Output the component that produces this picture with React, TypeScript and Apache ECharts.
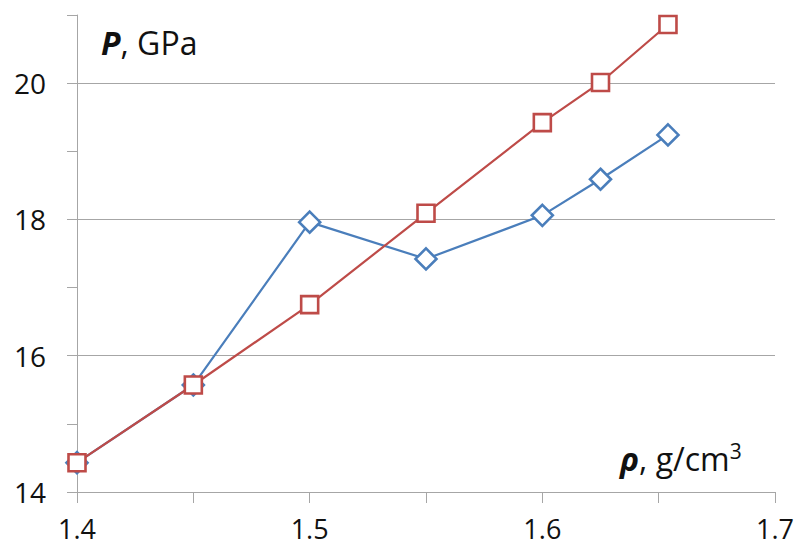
import React, { useEffect, useRef } from "react";
import * as echarts from "echarts";

// Density (g/cm3) and pressure (GPa) for the two data sets
const densityBlue = [1.4, 1.45, 1.5, 1.55, 1.6, 1.625, 1.654];
const pressureBlue = [14.43, 15.57, 17.96, 17.42, 18.06, 18.59, 19.24];

const densityRed = [1.4, 1.45, 1.5, 1.55, 1.6, 1.625, 1.654];
const pressureRed = [14.43, 15.57, 16.75, 18.09, 19.42, 20.01, 20.86];

// Horizontal reference lines drawn across the plot
const gridValues = [16, 18, 20];

const FONT = "'Open Sans', 'Noto Sans', sans-serif";
const BLUE = "#4a7ebb";
const RED = "#be4b48";
const GREY = "#a6a6a6";

export default function App() {
  const ref = useRef<HTMLDivElement>(null);

  useEffect(() => {
    if (!ref.current) return;
    const chart = echarts.init(ref.current, undefined, { renderer: "svg" });

    const pairs = (xs: number[], ys: number[]) => xs.map((x, i) => [x, ys[i]]);

    chart.setOption({
      animation: false,
      backgroundColor: "#ffffff",
      grid: { left: 77, right: 23, top: 15, bottom: 55, containLabel: false },
      xAxis: {
        type: "value",
        min: 1.4,
        max: 1.7,
        interval: 0.05,
        axisLine: { show: true, lineStyle: { color: GREY, width: 1 } },
        axisTick: { show: true, length: 11, lineStyle: { color: GREY } },
        splitLine: { show: false },
        axisLabel: {
          margin: 23,
          fontFamily: FONT,
          fontSize: 27,
          lineHeight: 27,
          color: "#111",
          formatter: (v: number) =>
            Math.abs(v * 10 - Math.round(v * 10)) < 1e-6 ? v.toFixed(1) : "",
        },
      },
      yAxis: {
        type: "value",
        min: 14,
        max: 21,
        interval: 1,
        axisLine: { show: true, lineStyle: { color: GREY, width: 1 } },
        axisTick: { show: true, length: 10, lineStyle: { color: GREY } },
        splitLine: { show: false },
        axisLabel: {
          margin: 31,
          fontFamily: FONT,
          fontSize: 28,
          color: "#111",
          formatter: (v: number) => (v % 2 === 0 ? String(v) : ""),
        },
      },
      graphic: [
        {
          type: "text",
          left: 101,
          top: 26,
          style: {
            text: "{b|P}{n|, GPa}",
            rich: {
              b: { fontFamily: FONT, fontSize: 32, fontWeight: "bold", fontStyle: "italic", fill: "#111" },
              n: { fontFamily: FONT, fontSize: 32, fill: "#111" },
            },
          },
        },
        {
          type: "text",
          left: 620,
          top: 440,
          style: {
            text: "{b|ρ}{n|, g/cm}{s|3}",
            rich: {
              b: { fontFamily: FONT, fontSize: 32, fontWeight: "bold", fontStyle: "italic", fill: "#111" },
              n: { fontFamily: FONT, fontSize: 32, fill: "#111" },
              s: { fontFamily: FONT, fontSize: 21, fill: "#111", verticalAlign: "top", padding: [0, 0, 15, 0] },
            },
          },
        },
      ],
      series: [
        {
          type: "line",
          data: pairs(densityBlue, pressureBlue),
          symbol: "diamond",
          symbolSize: 21,
          showAllSymbol: true,
          lineStyle: { color: BLUE, width: 2.2 },
          itemStyle: { color: "#ffffff", borderColor: BLUE, borderWidth: 2.6 },
          markLine: {
            silent: true,
            z: 1,
            symbol: "none",
            label: { show: false },
            lineStyle: { color: GREY, width: 1, type: "solid" },
            emphasis: { disabled: true },
            data: gridValues.map((v) => ({ yAxis: v })),
          },
        },
        {
          type: "line",
          data: pairs(densityRed, pressureRed),
          symbol: "rect",
          symbolSize: 17,
          showAllSymbol: true,
          lineStyle: { color: RED, width: 2.2 },
          itemStyle: { color: "#ffffff", borderColor: RED, borderWidth: 2.6 },
        },
      ],
    });

    return () => chart.dispose();
  }, []);

  return (
    <div
      ref={ref}
      style={{ position: "absolute", left: 0, top: 0, width: 798, height: 547 }}
    />
  );
}
